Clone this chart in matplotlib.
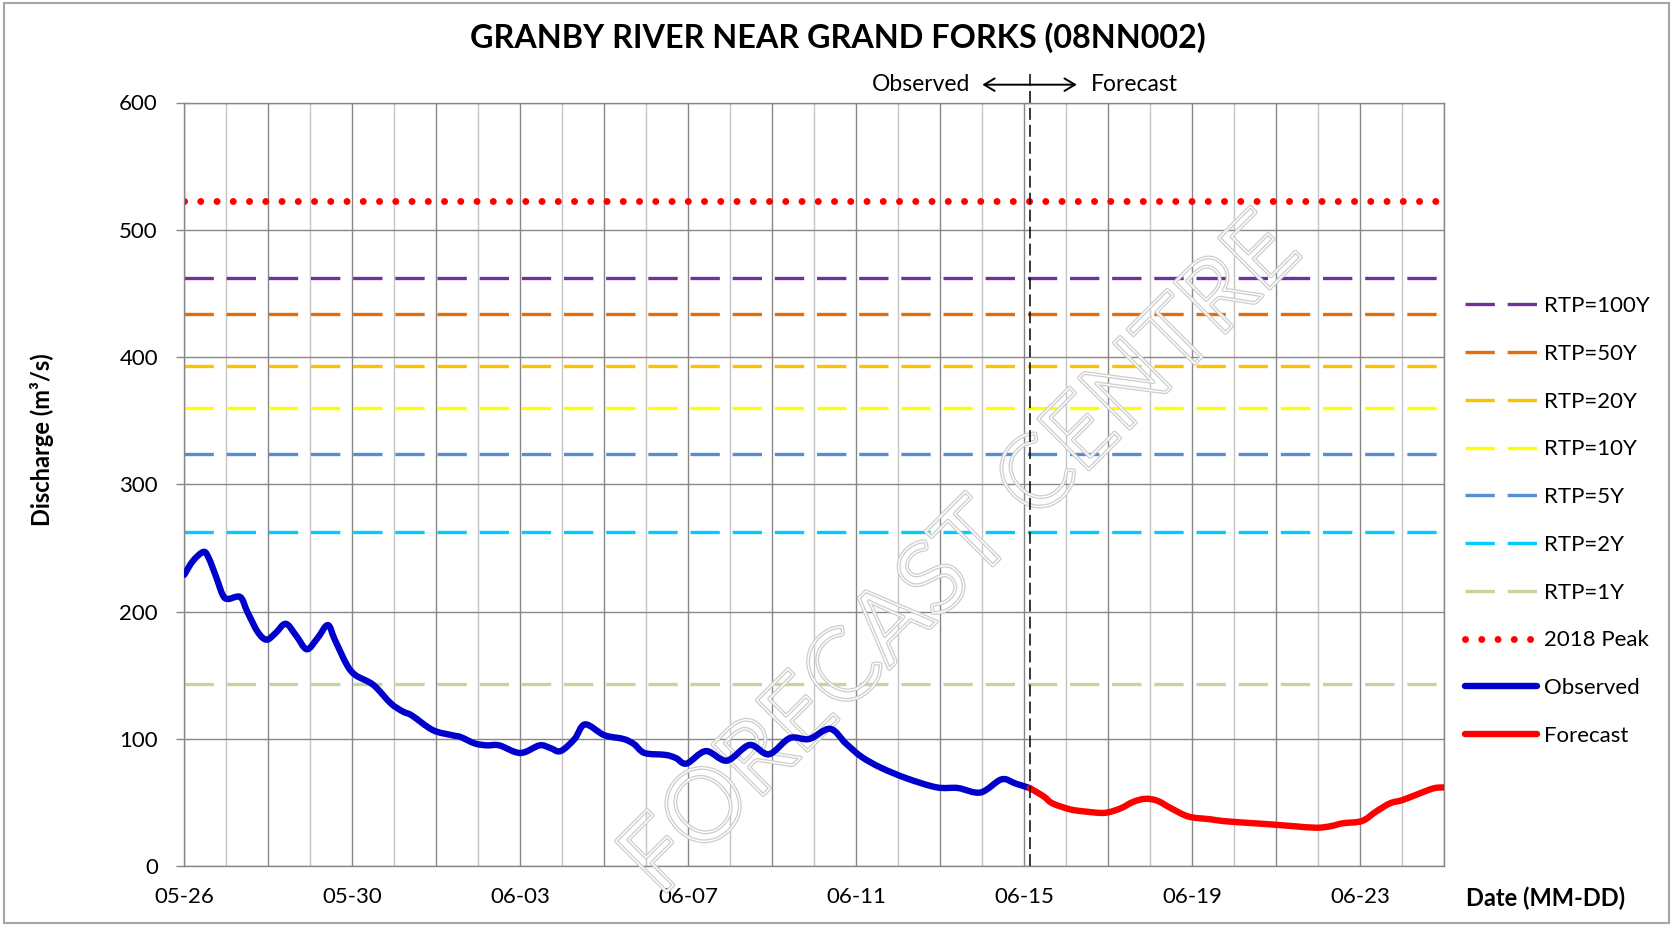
import numpy as np
import pandas as pd
import matplotlib
matplotlib.use("Agg")
import matplotlib.pyplot as plt
import matplotlib.dates as mdates
import matplotlib.patheffects as pe
from matplotlib.patches import Rectangle, PathPatch
from matplotlib.path import Path

plt.rcParams["font.family"] = ["Lato", "DejaVu Sans"]

YEAR = "2020"

# --- observed discharge (MM-DD HH:MM, m3/s)
obs_time = [
    "05-26 00:00", "05-26 05:00", "05-26 11:00", "05-26 14:00", "05-26 18:00", "05-26 22:00",
    "05-27 01:00", "05-27 08:00", "05-27 12:00", "05-27 18:00", "05-27 23:00",
    "05-28 04:00", "05-28 10:00", "05-28 16:00", "05-28 22:00",
    "05-29 04:00", "05-29 10:00", "05-29 14:00", "05-29 21:00",
    "05-30 02:00", "05-30 12:00", "05-30 22:00",
    "05-31 05:00", "05-31 10:00", "05-31 22:00",
    "06-01 09:00", "06-01 14:00", "06-01 22:00",
    "06-02 05:00", "06-02 12:00",
    "06-03 00:00", "06-03 11:00", "06-03 17:00", "06-03 23:00",
    "06-04 07:00", "06-04 13:00",
    "06-05 00:00", "06-05 11:00", "06-05 17:00", "06-05 23:00",
    "06-06 11:00", "06-06 17:00", "06-06 23:00",
    "06-07 10:00", "06-07 22:00",
    "06-08 11:00", "06-08 22:00",
    "06-09 10:00", "06-09 21:00",
    "06-10 09:00", "06-10 18:00",
    "06-11 03:00", "06-11 14:00",
    "06-12 05:00", "06-12 22:00",
    "06-13 10:00", "06-13 23:00",
    "06-14 11:00", "06-14 19:00",
    "06-15 03:00",
]
obs_q = [
    229, 240, 247, 242, 228, 213,
    210, 211.5, 200, 184, 178,
    183, 190.5, 181, 170.5,
    179, 189.5, 178, 158,
    150, 142.5, 128,
    121.5, 118.5, 107,
    103, 101.5, 96.5,
    95, 95,
    89, 95, 93, 90.5,
    100, 111.5,
    103, 100, 96, 89,
    87.5, 85, 80.7,
    90.5, 83,
    95.3, 88,
    100.7, 100,
    108, 96.5,
    86, 77.5,
    69, 62,
    61.5, 58,
    68.3, 65,
    61.5,
]

# --- forecast discharge
fc_time = [
    "06-15 03:00", "06-15 11:00", "06-15 16:00",
    "06-16 02:00", "06-16 11:00", "06-16 22:00",
    "06-17 07:00", "06-17 14:00", "06-17 21:00",
    "06-18 04:00", "06-18 12:00", "06-18 22:00",
    "06-19 10:00", "06-19 18:00",
    "06-20 07:00", "06-20 20:00",
    "06-21 10:00", "06-21 23:00",
    "06-22 07:00", "06-22 14:00",
    "06-23 01:00", "06-23 09:00", "06-23 17:00",
    "06-24 00:00", "06-24 10:00", "06-24 18:00",
    "06-25 00:00",
]
fc_q = [
    61.5, 55, 49.5,
    44.8, 43, 42,
    45.5, 50.5, 53,
    51.5, 45.5, 39,
    37, 35.5,
    34.2, 33,
    31.5, 30.3,
    31.5, 33.8,
    35.6, 43, 49.5,
    52, 57.3, 61.3,
    62,
]

# --- return period thresholds
rtp_labels = ["RTP=100Y", "RTP=50Y", "RTP=20Y", "RTP=10Y", "RTP=5Y", "RTP=2Y", "RTP=1Y"]
rtp_values = [462, 434, 393, 360, 324, 263, 143]
rtp_colors = ["#7030A0", "#E46C0A", "#FFC000", "#FFFF00", "#558ED5", "#00CCFF", "#C3D69B"]
peak_2018 = 523

x_start, x_end = "05-26", "06-25"
tick_labels = ["05-26", "05-30", "06-03", "06-07", "06-11", "06-15", "06-19", "06-23"]
split_time = "06-15 03:00"


def to_dt(s):
    return pd.to_datetime([f"{YEAR}-{v}" for v in s], format="%Y-%m-%d %H:%M")


def smooth_path(t, q):
    # spreadsheet-style smoothed line: cubic Bezier through every point
    x = mdates.date2num(t)
    p = np.column_stack([x, np.asarray(q, float)])
    pp = np.vstack([p[:1], p, p[-1:]])
    verts, codes = [p[0]], [Path.MOVETO]
    for i in range(1, len(pp) - 2):
        c1 = pp[i] + (pp[i + 1] - pp[i - 1]) / 6
        c2 = pp[i + 1] - (pp[i + 2] - pp[i]) / 6
        verts += [c1, c2, pp[i + 1]]
        codes += [Path.CURVE4] * 3
    return Path(verts, codes)


t_obs = to_dt(obs_time)
t_fc = to_dt(fc_time)
t0 = pd.Timestamp(f"{YEAR}-{x_start}")
t1 = pd.Timestamp(f"{YEAR}-{x_end}")
t_split = pd.Timestamp(f"{YEAR}-{split_time}")

W, H = 1674, 926
fig = plt.figure(figsize=(W / 100, H / 100), dpi=100)
ax = fig.add_axes([184.3 / W, 1 - 866.3 / H, 1260 / W, 763.8 / H])

# grid: one line per day, darker every second day
days = pd.date_range(t0, t1, freq="D")
for i, d in enumerate(days):
    ax.axvline(d, color="#878787" if i % 2 == 0 else "#c4c4c4", lw=1.0, zorder=0)
for v in range(0, 601, 100):
    ax.axhline(v, color="#878787", lw=1.0, zorder=0)

dash = (0, (8.8, 3.85))
for lab, val, col in zip(rtp_labels, rtp_values, rtp_colors):
    ax.plot([t0, t1], [val, val], color=col, lw=2.4, linestyle=dash,
            dash_capstyle="butt", label=lab, zorder=2)

ax.plot([t0, t1], [peak_2018, peak_2018], color="#FF0000", lw=5.0,
        linestyle=(0, (0.01, 2.33)), dash_capstyle="round", label="2018 Peak", zorder=2)

for t, q, col, lab in [(t_obs, obs_q, "#0000CC", "Observed"), (t_fc, fc_q, "#FF0000", "Forecast")]:
    ax.add_patch(PathPatch(smooth_path(t, q), fill=False, edgecolor=col, lw=4.6,
                           capstyle="round", joinstyle="round", zorder=4))
    ax.plot([], [], color=col, lw=4.6, solid_capstyle="round", label=lab)

# observed / forecast split
ax.plot([t_split, t_split], [0, 622], color="black", lw=1.1,
        linestyle=(0, (7.8, 3.3)), clip_on=False, zorder=5)
y_arr = 614
for dx in (-34, 34):
    ax.annotate("", xy=(t_split, y_arr), xytext=(dx, 0), textcoords="offset points",
                arrowprops=dict(arrowstyle="<-,head_length=0.75,head_width=0.45", lw=1.4,
                                color="black", shrinkA=0, shrinkB=0),
                annotation_clip=False)
ax.annotate("Observed", xy=(t_split, y_arr), xytext=(-42.5, 0), textcoords="offset points",
            ha="right", va="center", fontsize=16.5, annotation_clip=False)
ax.annotate("Forecast", xy=(t_split, y_arr), xytext=(44.5, 0), textcoords="offset points",
            ha="left", va="center", fontsize=16.5, annotation_clip=False)

ax.set_xlim(t0, t1)
ax.set_ylim(0, 600)
ax.set_yticks(range(0, 601, 100))
ax.set_xticks(to_dt([f"{s} 00:00" for s in tick_labels]))
ax.set_xticklabels(tick_labels)
ax.tick_params(axis="x", length=0, pad=15, labelsize=16)
ax.tick_params(axis="y", length=6, width=1, color="#878787", pad=13, labelsize=16)
for s in ax.spines.values():
    s.set_color("#878787")
    s.set_linewidth(1.0)

# watermark, kept under the discharge lines
ax.text(962 / W, 1 - 556 / H, "FORECAST CENTRE", rotation=45, fontsize=72,
        ha="center", va="center", rotation_mode="anchor", color="none",
        transform=fig.transFigure, clip_on=False, zorder=3,
        path_effects=[pe.Stroke(linewidth=2.8, foreground="#cdcdcd"),
                      pe.Stroke(linewidth=1.0, foreground="white")])

fig.text(838 / W, 1 - 48 / H, "GRANBY RIVER NEAR GRAND FORKS (08NN002)",
         ha="center", va="baseline", fontsize=23.3, fontweight="bold")
fig.text(42 / W, 1 - 440 / H, "Discharge (m³/s)", rotation=90,
         ha="center", va="center", fontsize=17, fontweight="bold")
fig.text(1466 / W, 1 - 898 / H, "Date (MM-DD)", ha="left", va="center",
         fontsize=17, fontweight="bold")

ax.legend(loc="upper left", bbox_to_anchor=(1465 / W, 1 - 296 / H),
          bbox_transform=fig.transFigure, frameon=False, fontsize=16,
          handlelength=3.25, handletextpad=0.3, labelspacing=1.25,
          borderpad=0, borderaxespad=0)

fig.add_artist(Rectangle((4 / W, 3 / H), 1665 / W, 920 / H, transform=fig.transFigure,
                         fill=False, edgecolor="#a6a6a6", lw=1.5))

fig.savefig("out.png", dpi=100)
